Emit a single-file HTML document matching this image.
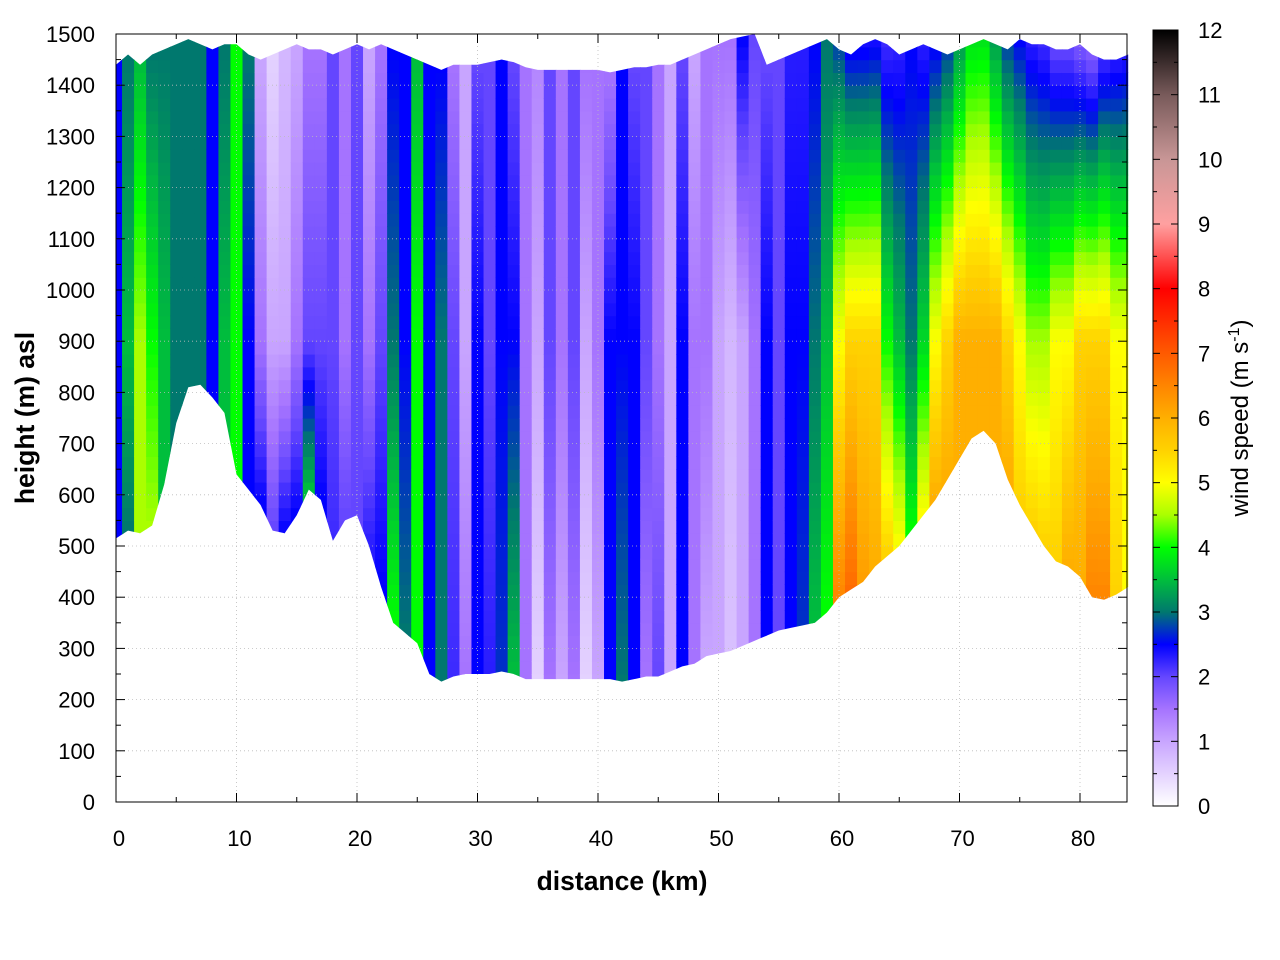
<!DOCTYPE html>
<html><head><meta charset="utf-8"><style>
body{margin:0;background:#fff;}
svg{display:block;font-family:"Liberation Sans",sans-serif;}
</style></head><body>
<svg id="chart" width="1280" height="960"></svg>
<script>
const distances = Array.from({length:85},(_, i)=>i);
const groundHeight = [515,530,525,540,620,740,810,815,790,760,640,610,580,530,525,560,610,590,510,550,560,500,420,350,330,310,250,235,245,250,250,250,255,250,240,240,240,240,240,240,240,240,235,240,245,245,255,265,270,285,290,295,305,315,325,335,340,345,350,370,400,415,430,460,480,500,530,560,590,630,670,710,725,700,630,580,540,500,470,460,440,400,395,405,420];
const topHeight = [1440,1460,1440,1460,1470,1480,1490,1480,1470,1480,1480,1460,1450,1460,1470,1480,1470,1470,1460,1470,1480,1470,1480,1470,1460,1450,1440,1430,1440,1440,1440,1445,1450,1445,1435,1430,1430,1430,1430,1430,1430,1425,1430,1435,1435,1440,1440,1450,1460,1470,1480,1490,1495,1500,1440,1450,1460,1470,1480,1490,1470,1460,1480,1490,1480,1460,1470,1480,1470,1460,1470,1480,1490,1480,1470,1490,1480,1480,1470,1470,1480,1460,1450,1450,1460];
const speedBottom = [2.5,3,4.5,4.5,3.5,3,3,3,2.5,3.5,4,2.5,2.5,2,2.5,2.5,3.5,2.5,2.2,2,2,2.3,2.5,4,3,4,2.5,3,2.2,1.5,2.5,2.3,2.7,3.5,1.5,0.5,1.5,1,1.5,0.5,1,2.5,3,2.5,1.5,2,1,2.5,1.5,1,1,0.7,1,1.5,2.5,2,2.5,2.7,3.5,4,6.5,6.8,6.2,6,5.5,5,4,5,6,6,6,6,6,6,6,5.5,5.5,5.5,5.5,6,6,6.5,6.5,5.5,5];
const speedMid = [2.5,3.5,4.5,4,3.5,3,3,3,2.5,3.5,4,2.5,1.5,1,1,1.5,2,2,2,1.5,2,1.5,2,3,2.5,4,2.5,3,2,1,2.5,2,2.5,2.5,1.5,1,2,1.5,2,1,1.5,2.5,2.5,2.5,2,1.5,1,2.5,1.5,1.5,1,0.8,1,1.5,2.5,2,2.5,2.5,3,3.5,5,5.5,5.5,5.5,4,3.5,3,3.7,5,5.5,6,6,6,6,5.5,5,4.5,4.5,5,5,5.5,5.5,5.5,5,5];
const speedTop = [2.5,3,3.5,3,3,3,3,3,2.5,3,4,3,1,0.5,0.8,1,1.5,1.5,2,1.5,2,1,1.5,2.5,2.5,3.5,2.5,2.5,1.5,1,2,2,2.5,2,1.5,1.3,2,1.5,2,1.5,1.5,1.5,2.5,2,2,1.5,1,2,1,1.5,1.5,1.5,2.5,2,2,2,2.3,2.3,2.5,3,2.8,2.5,2.4,2.4,2.2,2.3,2.5,2.3,2.5,2.8,3.3,3.8,3.8,3.3,2.8,2.5,2.3,2.2,2,2,1.8,1.8,2.2,2.3,2.3];
const xTicks=[0,10,20,30,40,50,60,70,80];
const yTicks=[0,100,200,300,400,500,600,700,800,900,1000,1100,1200,1300,1400,1500];
const cbTicks=[0,1,2,3,4,5,6,7,8,9,10,11,12];

const X0=116,X1=1127,Y0=802,Y1=34, XMAX=(X1-X0)/12.05;
const sx=d=>X0+d*12.05, sy=h=>Y0-h*(Y0-Y1)/1500;
const stops=[[0,[255,255,255]],[1,[200,165,255]],[1.5,[165,115,255]],[2,[100,70,255]],[2.5,[0,0,255]],[3,[0,120,110]],[3.5,[0,190,60]],[4,[0,255,0]],[4.5,[170,255,0]],[5,[255,255,0]],[5.5,[255,210,0]],[6,[255,175,0]],[7,[255,90,0]],[8,[255,0,0]],[9,[255,160,160]],[10,[200,150,150]],[11,[120,90,90]],[12,[0,0,0]]];
function col(v){v=Math.max(0,Math.min(12,v));for(let i=1;i<stops.length;i++){if(v<=stops[i][0]){const a=stops[i-1],b=stops[i],t=(v-a[0])/(b[0]-a[0]);return 'rgb('+a[1].map((c,k)=>Math.round(c+(b[1][k]-c)*t)).join(',')+')';}}return '#000';}
const NS='http://www.w3.org/2000/svg', svg=document.getElementById('chart');
function el(t,a,p){const e=document.createElementNS(NS,t);for(const k in a)e.setAttribute(k,a[k]);(p||svg).appendChild(e);return e;}

const defs=el('defs',{});
const cp=el('clipPath',{id:'cp'},defs);
let pts=distances.map(i=>sx(i)+','+sy(topHeight[i]));
pts=pts.concat(distances.slice().reverse().map(i=>sx(i)+','+sy(groundHeight[i])));
el('polygon',{points:pts.join(' ')},cp);
const grad=el('linearGradient',{id:'cbg',x1:0,y1:1,x2:0,y2:0},defs);
for(let v=0;v<=12;v+=0.25)el('stop',{offset:v/12,'stop-color':col(v)},grad);

const field=el('g',{'clip-path':'url(#cp)'});


distances.forEach(i=>{
  const g=groundHeight[i], m=900, t=topHeight[i];
  for(let h=200;h<1500;h+=25){
    let v; const hc=h+12.5;
    if(hc<=m) v=speedBottom[i]+(speedMid[i]-speedBottom[i])*Math.max(0,(hc-g)/(m-g||1));
    else v=speedMid[i]+(speedTop[i]-speedMid[i])*Math.min(1,(hc-m)/(t-m));
    const r=el('rect',{x:sx(i-0.5),y:sy(h+25),width:12.6,height:(Y0-Y1)/1500*25+0.6,fill:col(v)},field);
    
    
  }
});

const grid=el('g',{stroke:'#bbb','stroke-width':0.8,'stroke-dasharray':'1,3'});


xTicks.forEach(d=>{if(d>0)el('line',{x1:sx(d),x2:sx(d),y1:Y1,y2:Y0},grid);});
yTicks.forEach(h=>{if(h>0&&h<1500)el('line',{x1:X0,x2:X1,y1:sy(h),y2:sy(h)},grid);});

const ax=el('g',{stroke:'#000','stroke-width':1});


el('rect',{x:X0,y:Y1,width:X1-X0,height:Y0-Y1,fill:'none'},ax);
for(let d=0;d<XMAX;d+=5){const L=d%10?5:9;el('line',{x1:sx(d),x2:sx(d),y1:Y0,y2:Y0-L},ax);el('line',{x1:sx(d),x2:sx(d),y1:Y1,y2:Y1+L},ax);}
for(let h=0;h<=1500;h+=50){const L=h%100?5:9;el('line',{x1:X0,x2:X0+L,y1:sy(h),y2:sy(h)},ax);el('line',{x1:X1,x2:X1-L,y1:sy(h),y2:sy(h)},ax);}
xTicks.forEach(d=>{const t=el('text',{x:sx(d)+3,y:846,'font-size':22,'text-anchor':'middle'});t.textContent=d;});
yTicks.forEach(h=>{const t=el('text',{x:95,y:sy(h)+8,'font-size':22,'text-anchor':'end'});t.textContent=h;});
let t=el('text',{x:622,y:890,'font-size':26.5,'font-weight':'bold','text-anchor':'middle'});t.textContent='distance (km)';

t=el('text',{x:0,y:0,'font-size':26.5,'font-weight':'bold','text-anchor':'middle',transform:'translate(34,418) rotate(-90)'});t.textContent='height (m) asl';


const CB0=806,CB1=30,CBX=1153,CBW=25, cy=v=>CB0-v*(CB0-CB1)/12;
const cb=el('g',{});


el('rect',{x:CBX,y:CB1,width:CBW,height:CB0-CB1,fill:'url(#cbg)',stroke:'#000','stroke-width':1},cb);
for(let v=0;v<=12;v+=0.5){const L=v%1?4:7;el('line',{x1:CBX,x2:CBX+L,y1:cy(v),y2:cy(v),stroke:'#000'},cb);el('line',{x1:CBX+CBW,x2:CBX+CBW-L,y1:cy(v),y2:cy(v),stroke:'#000'},cb);}
cbTicks.forEach(v=>{const tt=el('text',{x:1198,y:cy(v)+8,'font-size':22},cb);tt.textContent=v;});
t=el('text',{x:0,y:0,'font-size':24,transform:'translate(1248,418) rotate(-90)','text-anchor':'middle'});
t.innerHTML='wind speed (m s<tspan dy="-9" font-size="16">-1</tspan><tspan dy="9">)</tspan>';

</script>
</body></html>
